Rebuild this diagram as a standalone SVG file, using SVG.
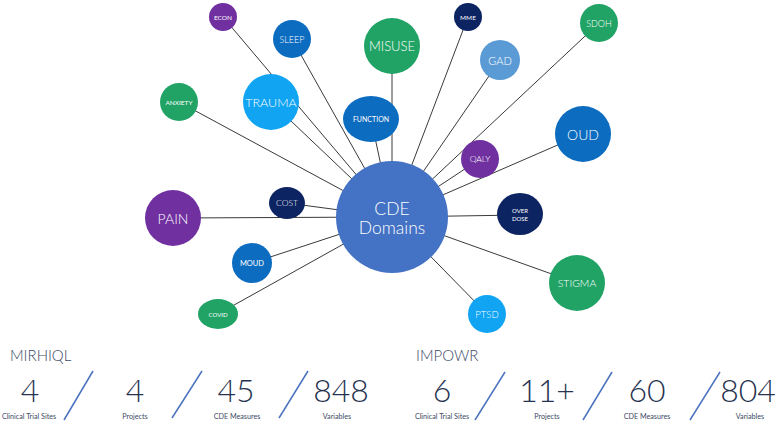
<svg xmlns="http://www.w3.org/2000/svg" width="780" height="427" viewBox="0 0 780 427">
<style>
.lk{stroke:#3a3a3a;stroke-width:1;fill:none}
.t{fill:#fff;font-family:Lato,"Open Sans",sans-serif;font-weight:300;text-anchor:middle;dominant-baseline:central}
.s{font-weight:400}
.g{fill:#21a366}.p{fill:#7030a0}.b{fill:#0b6cc0}.lb{fill:#10a4f3}.n{fill:#0c2462}.gd{fill:#5b9bd5}.c{fill:#4472c4}
.h{fill:#3d4a66;font-family:Lato,"Open Sans",sans-serif;font-size:15px;font-weight:300}
.num{fill:#26324f;font-family:Lato,"Open Sans",sans-serif;font-size:32px;font-weight:300;text-anchor:middle}
.lab{fill:#3d4a66;font-family:Lato,"Open Sans",sans-serif;font-size:7.2px;text-anchor:middle}
.sl{stroke:#4a72be;stroke-width:1.5}
</style>
<g id="connectors">
<line class="lk" x1="392" y1="217" x2="223" y2="17"/>
<line class="lk" x1="392" y1="217" x2="292" y2="39"/>
<line class="lk" x1="392" y1="217" x2="392" y2="46"/>
<line class="lk" x1="392" y1="217" x2="271" y2="102"/>
<line class="lk" x1="392" y1="217" x2="179" y2="102"/>
<line class="lk" x1="392" y1="217" x2="371" y2="119"/>
<line class="lk" x1="392" y1="217" x2="468" y2="17"/>
<line class="lk" x1="392" y1="217" x2="500" y2="60"/>
<line class="lk" x1="392" y1="217" x2="599" y2="23"/>
<line class="lk" x1="392" y1="217" x2="583" y2="134"/>
<line class="lk" x1="392" y1="217" x2="480" y2="159"/>
<line class="lk" x1="392" y1="217" x2="520" y2="215"/>
<line class="lk" x1="392" y1="217" x2="577" y2="283"/>
<line class="lk" x1="392" y1="217" x2="487" y2="314"/>
<line class="lk" x1="392" y1="217" x2="287" y2="203"/>
<line class="lk" x1="392" y1="217" x2="173" y2="218"/>
<line class="lk" x1="392" y1="217" x2="252" y2="263"/>
<line class="lk" x1="392" y1="217" x2="218" y2="314"/>
</g>
<g id="econ"><circle class="p" cx="223" cy="17" r="14"/><text class="t s" x="223" y="17" font-size="6.5">ECON</text></g>
<g id="sleep"><circle class="b" cx="292" cy="39" r="19"/><text class="t" x="292" y="39" font-size="9">SLEEP</text></g>
<g id="misuse"><circle class="g" cx="392" cy="46" r="28"/><text class="t" x="392" y="46" font-size="13">MISUSE</text></g>
<g id="trauma"><circle class="lb" cx="271" cy="102" r="28"/><text class="t" x="271" y="102" font-size="12.5">TRAUMA</text></g>
<g id="anxiety"><circle class="g" cx="179" cy="102" r="19"/><text class="t s" x="179" y="102" font-size="6.5">ANXIETY</text></g>
<g id="function"><ellipse class="b" cx="371" cy="119" rx="28" ry="23"/><text class="t s" x="371" y="119" font-size="7">FUNCTION</text></g>
<g id="mme"><circle class="n" cx="468" cy="17" r="14"/><text class="t s" x="468" y="17" font-size="6.5">MME</text></g>
<g id="gad"><circle class="gd" cx="500" cy="60" r="20"/><text class="t" x="500" y="60" font-size="11">GAD</text></g>
<g id="sdoh"><circle class="g" cx="599" cy="23" r="19"/><text class="t" x="599" y="23" font-size="9">SDOH</text></g>
<g id="oud"><circle class="b" cx="583" cy="134" r="28"/><text class="t" x="583" y="134" font-size="14">OUD</text></g>
<g id="qaly"><circle class="p" cx="480" cy="159" r="19"/><text class="t" x="480" y="159" font-size="8.5">QALY</text></g>
<g id="overdose"><ellipse class="n" cx="520" cy="214" rx="23" ry="21"/><text class="t s" x="520" y="210" font-size="6">OVER</text><text class="t s" x="520" y="218" font-size="6">DOSE</text></g>
<g id="stigma"><circle class="g" cx="577" cy="283" r="28"/><text class="t" x="577" y="283" font-size="10.5">STIGMA</text></g>
<g id="ptsd"><circle class="lb" cx="487" cy="314" r="19"/><text class="t" x="487" y="314" font-size="9.5">PTSD</text></g>
<g id="cost"><ellipse class="n" cx="287" cy="203" rx="18" ry="16"/><text class="t" x="287" y="203" font-size="8.5">COST</text></g>
<g id="pain"><circle class="p" cx="173" cy="218" r="28"/><text class="t" x="173" y="218" font-size="14">PAIN</text></g>
<g id="moud"><circle class="b" cx="252" cy="263" r="20"/><text class="t s" x="252" y="263" font-size="7.5">MOUD</text></g>
<g id="covid"><ellipse class="g" cx="218" cy="314" rx="20" ry="15"/><text class="t s" x="218" y="314" font-size="6">COVID</text></g>
<g id="cde"><circle class="c" cx="392" cy="217" r="56"/><text class="t" x="392" y="208" font-size="17.5">CDE</text><text class="t" x="392" y="227" font-size="17.5">Domains</text></g>
<g id="mirhiql">
<text class="h" x="10" y="361">MIRHIQL</text>
<text class="num" x="30" y="402">4</text><text class="lab" x="29" y="419">Clinical Trial Sites</text>
<line class="sl" x1="93" y1="371" x2="64" y2="420"/>
<text class="num" x="135" y="402">4</text><text class="lab" x="135" y="419">Projects</text>
<line class="sl" x1="202" y1="371" x2="172" y2="418"/>
<text class="num" x="236" y="402">45</text><text class="lab" x="237" y="419">CDE Measures</text>
<line class="sl" x1="308" y1="371" x2="279" y2="418"/>
<text class="num" x="341" y="402">848</text><text class="lab" x="337" y="419">Variables</text>
</g>
<g id="impowr">
<text class="h" x="416" y="361">IMPOWR</text>
<text class="num" x="442" y="402">6</text><text class="lab" x="442" y="419">Clinical Trial Sites</text>
<line class="sl" x1="505" y1="372" x2="475" y2="420"/>
<text class="num" x="547" y="402">11+</text><text class="lab" x="547" y="419">Projects</text>
<line class="sl" x1="612" y1="372" x2="583" y2="420"/>
<text class="num" x="647" y="402">60</text><text class="lab" x="647" y="419">CDE Measures</text>
<line class="sl" x1="720" y1="372" x2="690" y2="420"/>
<text class="num" x="748" y="402">804</text><text class="lab" x="750" y="419">Variables</text>
</g>
</svg>
